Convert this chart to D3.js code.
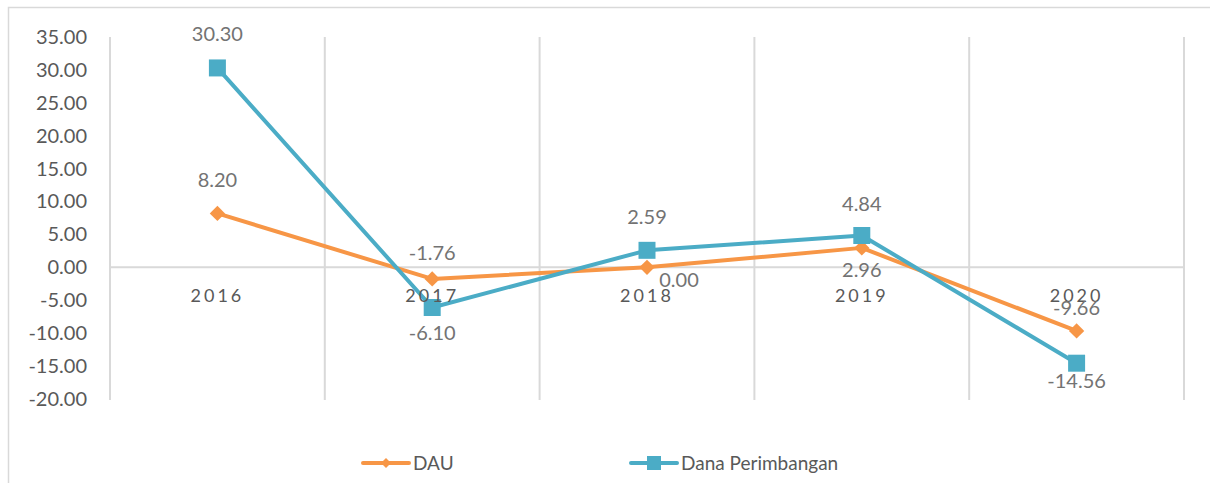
<!DOCTYPE html>
<html>
<head>
<meta charset="utf-8">
<script src="https://cdn.jsdelivr.net/npm/d3@7"></script>
<style>
  body { margin: 0; background: #fff; }
  svg { display: block; font-family: Lato, "Open Sans", sans-serif; }
</style>
</head>
<body>
<div id="chart"></div>
<script>
var years = ["2016", "2017", "2018", "2019", "2020"];
var dau = [8.20, -1.76, 0.00, 2.96, -9.66];
var danaPerimbangan = [30.30, -6.10, 2.59, 4.84, -14.56];
var yTicks = [35, 30, 25, 20, 15, 10, 5, 0, -5, -10, -15, -20];
// value label placement relative to its marker (as placed in the original)
var dauLabelDx = [0, 0, 32, 0, 0];
var dauLabelDy = [-33, -26, 13, 22, -23];
var danaLabelDx = [0, 0, 0, 0, 0];
var danaLabelDy = [-34, 25, -33, -32, 18];

var W = 1210, H = 483;
var fmt = d3.formatLocale({decimal: ".", thousands: ",", grouping: [3], currency: ["", ""], minus: "-"}).format(".2f");

var svg = d3.select("#chart").append("svg")
    .attr("width", W)
    .attr("height", H);

// chart area frame
svg.append("path")
    .attr("d", "M8.5," + H + "V7.5H" + W)
    .attr("fill", "none")
    .attr("stroke", "#d9d9d9")
    .attr("stroke-width", 1.5);

var x = d3.scaleBand()
    .domain(years)
    .range([110, 1184])
    .padding(0);

var y = d3.scaleLinear()
    .domain([-20, 35])
    .range([399, 37]);

var g = svg.append("g");

// vertical gridlines at band edges
var edges = years.map(function(d) { return x(d); }).concat([x.range()[1]]);
g.selectAll(".vgrid")
    .data(edges)
    .enter().append("line")
    .attr("x1", function(d) { return d; })
    .attr("x2", function(d) { return d; })
    .attr("y1", y(35))
    .attr("y2", y(-20) + 1)
    .attr("stroke", "#d9d9d9")
    .attr("stroke-width", 2);

// zero line
g.append("line")
    .attr("x1", x.range()[0]).attr("x2", x.range()[1])
    .attr("y1", y(0)).attr("y2", y(0))
    .attr("stroke", "#d9d9d9")
    .attr("stroke-width", 2);

// y axis
var yAxis = d3.axisLeft(y)
    .tickValues(yTicks)
    .tickFormat(fmt)
    .tickSize(0)
    .tickPadding(0);

var ya = svg.append("g")
    .attr("transform", "translate(87,0)")
    .call(yAxis);
ya.select(".domain").remove();
ya.selectAll("text")
    .attr("fill", "#595959")
    .style("font-size", "20px")
    .style("font-family", "Lato, sans-serif");

// category labels
svg.selectAll(".cat")
    .data(years)
    .enter().append("text")
    .attr("x", function(d) { return x(d) + x.bandwidth() / 2; })
    .attr("y", 302)
    .attr("text-anchor", "middle")
    .attr("fill", "#595959")
    .style("font-size", "18px")
    .style("letter-spacing", "3px")
    .text(function(d) { return d; });

var series = [
    {name: "DAU", values: dau, color: "#F79646", marker: "diamond", dx: dauLabelDx, dy: dauLabelDy},
    {name: "Dana Perimbangan", values: danaPerimbangan, color: "#4BACC6", marker: "square", dx: danaLabelDx, dy: danaLabelDy}
];

var line = d3.line()
    .x(function(d, i) { return x(years[i]) + x.bandwidth() / 2; })
    .y(function(d) { return y(d); });

function markerPath(type, small) {
    if (type === "diamond") return d3.symbol().type(d3.symbolDiamond2).size(small ? 65 : 150)();
    var h = small ? 7 : 8.5;
    return "M" + -h + "," + -h + "H" + h + "V" + h + "H" + -h + "Z";
}

series.forEach(function(s) {
    g.append("path")
        .datum(s.values)
        .attr("d", line)
        .attr("fill", "none")
        .attr("stroke", s.color)
        .attr("stroke-width", 4)
        .attr("stroke-linejoin", "round");

    g.selectAll(".m-" + s.marker)
        .data(s.values)
        .enter().append("path")
        .attr("transform", function(d, i) {
            return "translate(" + (x(years[i]) + x.bandwidth() / 2) + "," + y(d) + ")";
        })
        .attr("d", markerPath(s.marker))
        .attr("fill", s.color);
});

// value labels
series.forEach(function(s) {
    svg.selectAll(".lbl-" + s.marker)
        .data(s.values)
        .enter().append("text")
        .attr("x", function(d, i) { return x(years[i]) + x.bandwidth() / 2 + s.dx[i]; })
        .attr("y", function(d, i) { return y(d) + s.dy[i] + 7; })
        .attr("text-anchor", "middle")
        .attr("fill", "#737373")
        .style("font-size", "20px")
        .text(function(d) { return fmt(d); });
});

// legend
var legendItems = [
    {s: series[0], x: 363},
    {s: series[1], x: 631}
];
legendItems.forEach(function(it) {
    var lg = svg.append("g").attr("transform", "translate(" + it.x + ",463)");
    lg.append("line")
        .attr("x1", 0).attr("x2", 46)
        .attr("stroke", it.s.color)
        .attr("stroke-width", 4)
        .attr("stroke-linecap", "round");
    lg.append("path")
        .attr("transform", "translate(23,0)")
        .attr("d", markerPath(it.s.marker, true))
        .attr("fill", it.s.color);
    lg.append("text")
        .attr("x", 50).attr("y", 7)
        .attr("fill", "#595959")
        .style("font-size", "19px")
        .text(it.s.name);
});
</script>
</body>
</html>
